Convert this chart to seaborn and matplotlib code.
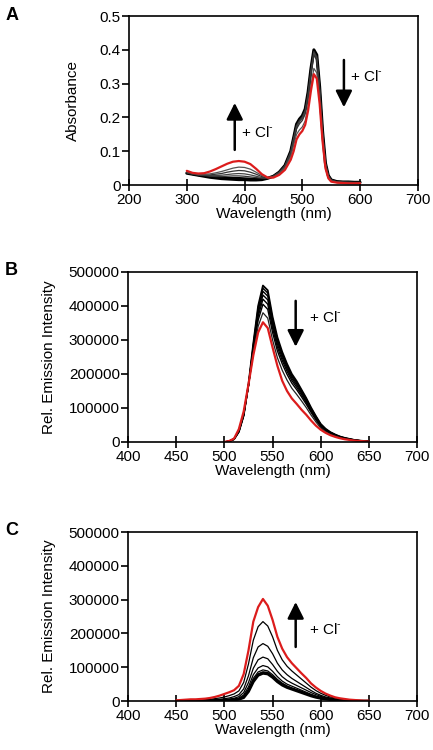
import numpy as np
import pandas as pd
import matplotlib.pyplot as plt
import seaborn as sns

# --- Panel A: absorbance, 300-600 nm ---
wl_a = [300, 310, 320, 330, 340, 350, 360, 370, 380, 390, 400, 410, 420, 430, 440, 450, 460, 470,
        480, 485, 490, 495, 500, 505, 510, 515, 520, 525, 530, 535, 540, 545, 550, 560, 570, 580, 590, 600]
abs_1 = [.035, .032, .029, .026, .023, .021, .019, .018, .017, .016, .016, .015, .015, .016, .020, .026, .038, .058,
         .100, .140, .180, .195, .205, .225, .275, .345, .400, .385, .290, .160, .065, .028, .015, .010, .009, .009, .008, .008]
abs_2 = [.036, .032, .029, .027, .025, .023, .022, .021, .021, .021, .020, .019, .018, .018, .020, .026, .038, .058,
         .099, .139, .178, .193, .203, .223, .273, .343, .398, .383, .288, .159, .064, .028, .015, .010, .009, .009, .008, .008]
abs_3 = [.036, .032, .030, .028, .026, .025, .025, .026, .027, .027, .026, .024, .022, .020, .020, .026, .038, .057,
         .098, .138, .176, .191, .201, .221, .270, .340, .395, .380, .286, .158, .064, .028, .015, .010, .009, .008, .008, .008]
abs_4 = [.037, .033, .030, .029, .028, .028, .029, .031, .033, .034, .033, .030, .026, .022, .021, .026, .037, .056,
         .096, .135, .172, .187, .197, .216, .265, .334, .390, .375, .282, .155, .063, .027, .014, .009, .008, .008, .007, .007]
abs_5 = [.038, .034, .031, .030, .030, .032, .034, .038, .041, .043, .042, .038, .032, .025, .021, .025, .036, .055,
         .093, .131, .166, .181, .191, .210, .258, .327, .385, .370, .277, .152, .061, .026, .014, .009, .008, .007, .007, .007]
abs_6 = [.040, .035, .032, .032, .033, .036, .040, .045, .050, .053, .052, .047, .038, .028, .022, .024, .034, .051,
         .085, .118, .150, .163, .172, .190, .235, .295, .345, .332, .252, .138, .055, .023, .012, .008, .007, .006, .006, .006]
abs_red = [.042, .036, .034, .035, .040, .047, .055, .063, .069, .071, .069, .062, .048, .032, .022, .022, .030, .045,
           .075, .100, .135, .150, .160, .178, .220, .280, .328, .315, .240, .130, .050, .020, .010, .007, .006, .005, .005, .005]

# --- Panel B: emission (x1000), 500-650 nm ---
wl_b = list(range(500, 655, 5))
emb_1 = [0, 2, 8, 30, 78, 170, 290, 400, 460, 446, 368, 308, 265, 230, 200, 179, 154, 129, 101, 76, 53, 39, 29, 22, 16, 12, 9, 6, 4, 3, 2]
emb_2 = [0, 2, 8, 30, 78, 168, 286, 394, 452, 438, 361, 302, 260, 226, 196, 176, 151, 127, 99, 75, 52, 38, 28, 21, 16, 12, 9, 6, 4, 3, 2]
emb_3 = [0, 2, 8, 31, 79, 167, 282, 387, 443, 429, 354, 296, 255, 221, 192, 172, 148, 124, 97, 73, 51, 37, 28, 21, 15, 11, 8, 6, 4, 3, 2]
emb_4 = [0, 2, 9, 32, 80, 166, 278, 378, 432, 418, 345, 288, 248, 215, 187, 167, 144, 120, 94, 71, 49, 36, 27, 20, 15, 11, 8, 6, 4, 3, 2]
emb_5 = [0, 2, 9, 33, 81, 166, 273, 369, 420, 405, 335, 279, 240, 208, 181, 161, 139, 116, 91, 68, 47, 35, 26, 19, 14, 11, 8, 5, 4, 3, 2]
emb_6 = [0, 2, 9, 34, 83, 167, 268, 358, 405, 390, 322, 268, 230, 199, 173, 154, 133, 111, 87, 65, 45, 33, 25, 18, 14, 10, 7, 5, 4, 2, 2]
emb_7 = [0, 3, 10, 35, 85, 166, 260, 340, 380, 364, 300, 248, 211, 182, 158, 140, 121, 101, 79, 59, 41, 30, 22, 17, 12, 9, 7, 5, 3, 2, 1]
emb_red = [0, 3, 10, 38, 90, 170, 255, 322, 352, 335, 278, 224, 180, 150, 128, 112, 95, 80, 63, 48, 36, 27, 20, 15, 11, 8, 6, 4, 3, 2, 1]

# --- Panel C: emission (x1000), 450-650 nm ---
wl_c = list(range(450, 655, 5))
emc_1 = [0, 0, 0, 0, 0, 0, 0, 0, 1, 1, 1, 2, 3, 5, 10, 28, 57, 76, 82, 80, 70, 57, 47, 40, 35, 30, 25, 20, 15, 11, 8, 6, 4, 3, 2, 1, 1, 0, 0, 0, 0]
emc_2 = [0, 0, 0, 0, 0, 0, 0, 1, 1, 1, 2, 2, 3, 6, 12, 31, 61, 80, 86, 84, 73, 60, 50, 42, 37, 32, 27, 22, 17, 12, 9, 6, 5, 3, 2, 1, 1, 1, 0, 0, 0]
emc_3 = [0, 0, 0, 0, 0, 0, 1, 1, 1, 1, 2, 3, 4, 7, 14, 35, 67, 86, 92, 89, 78, 64, 53, 45, 39, 34, 29, 23, 18, 13, 10, 7, 5, 3, 2, 2, 1, 1, 0, 0, 0]
emc_4 = [0, 0, 0, 0, 0, 1, 1, 1, 1, 2, 3, 4, 6, 9, 18, 42, 78, 98, 105, 101, 88, 72, 59, 50, 44, 38, 32, 26, 20, 15, 11, 8, 6, 4, 3, 2, 1, 1, 1, 0, 0]
emc_5 = [0, 0, 0, 0, 1, 1, 1, 2, 2, 3, 4, 6, 8, 13, 25, 55, 97, 122, 130, 125, 108, 88, 72, 61, 53, 46, 39, 32, 25, 19, 14, 10, 7, 5, 3, 2, 2, 1, 1, 0, 0]
emc_6 = [0, 0, 1, 1, 1, 1, 2, 3, 4, 5, 7, 9, 13, 19, 36, 75, 128, 160, 170, 162, 140, 112, 92, 78, 67, 58, 49, 40, 31, 23, 17, 12, 9, 6, 4, 3, 2, 1, 1, 0, 0]
emc_7 = [1, 1, 1, 2, 2, 3, 4, 5, 7, 9, 12, 16, 21, 30, 55, 110, 180, 220, 235, 222, 190, 150, 122, 103, 89, 77, 65, 53, 41, 31, 23, 17, 12, 9, 6, 4, 3, 2, 1, 1, 0]
emc_red = [2, 3, 4, 5, 5, 6, 7, 9, 12, 16, 21, 26, 32, 45, 80, 150, 235, 278, 302, 282, 240, 190, 155, 130, 112, 97, 82, 68, 52, 40, 30, 22, 16, 11, 8, 6, 4, 3, 2, 1, 1]

sns.set_style("ticks")
plt.rcParams['font.family'] = ['Liberation Sans', 'DejaVu Sans']
plt.rcParams['mathtext.fontset'] = 'custom'
plt.rcParams['mathtext.rm'] = 'Liberation Sans'
plt.rcParams['font.size'] = 11
plt.rcParams.update({'text.color': 'black', 'axes.labelcolor': 'black',
                     'xtick.color': 'black', 'ytick.color': 'black'})

fig = plt.figure(figsize=(4.33, 7.5), dpi=100)
ax_a = fig.add_axes([0.298, 0.7533, 0.667, 0.2253])
ax_b = fig.add_axes([0.296, 0.4107, 0.667, 0.2267])
ax_c = fig.add_axes([0.296, 0.0653, 0.667, 0.2253])

RED = "#dc1c1c"


def draw(ax, wl, curves, scale=1.0):
    # curves: list of (values, color, width)
    for vals, col, lw in curves:
        sns.lineplot(x=wl, y=np.array(vals) * scale, color=col, lw=lw, ax=ax)


draw(ax_a, wl_a, [(abs_1, "black", 2.2), (abs_2, "black", 1.4), (abs_3, "#333333", 0.9),
                  (abs_4, "#444444", 0.9), (abs_5, "#333333", 0.9), (abs_6, "#555555", 0.9),
                  (abs_red, RED, 1.6)])
draw(ax_b, wl_b, [(emb_1, "black", 1.3), (emb_2, "black", 1.0), (emb_3, "black", 1.0),
                  (emb_4, "black", 1.0), (emb_5, "black", 1.0), (emb_6, "black", 1.0),
                  (emb_7, "#222222", 0.9), (emb_red, RED, 1.6)], scale=1000)
draw(ax_c, wl_c, [(emc_1, "black", 2.0), (emc_2, "black", 1.2), (emc_3, "black", 0.9),
                  (emc_4, "black", 0.9), (emc_5, "black", 0.9), (emc_6, "black", 0.9),
                  (emc_7, "black", 0.9), (emc_red, RED, 1.6)], scale=1000)

ax_a.set_xlim(200, 700)
ax_a.set_ylim(0, 0.5)
ax_a.set_xticks([200, 300, 400, 500, 600, 700])
ax_a.set_yticks([0, 0.1, 0.2, 0.3, 0.4, 0.5])
ax_a.set_yticklabels(["0", "0.1", "0.2", "0.3", "0.4", "0.5"])
ax_a.set_ylabel("Absorbance", labelpad=14)

for ax in (ax_b, ax_c):
    ax.set_xlim(400, 700)
    ax.set_ylim(0, 500000)
    ax.set_xticks([400, 450, 500, 550, 600, 650, 700])
    ax.set_yticks([0, 100000, 200000, 300000, 400000, 500000])
    ax.set_yticklabels(["0", "100000", "200000", "300000", "400000", "500000"])
    ax.set_ylabel("Rel. Emission Intensity", labelpad=9)

for ax in (ax_a, ax_b, ax_c):
    ax.set_xlabel("Wavelength (nm)", labelpad=0)
    for s in ax.spines.values():
        s.set_linewidth(1.2)
        s.set_color("black")
    ax.tick_params(axis="x", direction="inout", length=9, width=1.2, pad=1, labelsize=11)
    ax.tick_params(axis="y", direction="out", length=5, width=1.2, pad=1, labelsize=11)

arrow = dict(arrowstyle="-|>,head_length=0.9,head_width=0.45", lw=1.8, color="black",
             shrinkA=0, shrinkB=0)
lab = r"+ Cl$^{\text{-}}$"
ax_a.annotate("", xy=(383, 0.243), xytext=(383, 0.104), arrowprops=arrow)
ax_a.text(393, 0.155, lab, va="center", fontsize=11)
ax_a.annotate("", xy=(572, 0.23), xytext=(572, 0.37), arrowprops=arrow)
ax_a.text(582, 0.32, lab, va="center", fontsize=11)

ax_b.annotate("", xy=(574, 280000), xytext=(574, 415000), arrowprops=arrow)
ax_b.text(588, 365000, lab, va="center", fontsize=11)

ax_c.annotate("", xy=(574, 293000), xytext=(574, 160000), arrowprops=arrow)
ax_c.text(588, 212000, lab, va="center", fontsize=11)

fig.text(0.012, 0.991, "A", fontsize=13, fontweight="bold", va="top")
fig.text(0.012, 0.651, "B", fontsize=13, fontweight="bold", va="top")
fig.text(0.012, 0.304, "C", fontsize=13, fontweight="bold", va="top")

fig.savefig("out.png", dpi=100)
